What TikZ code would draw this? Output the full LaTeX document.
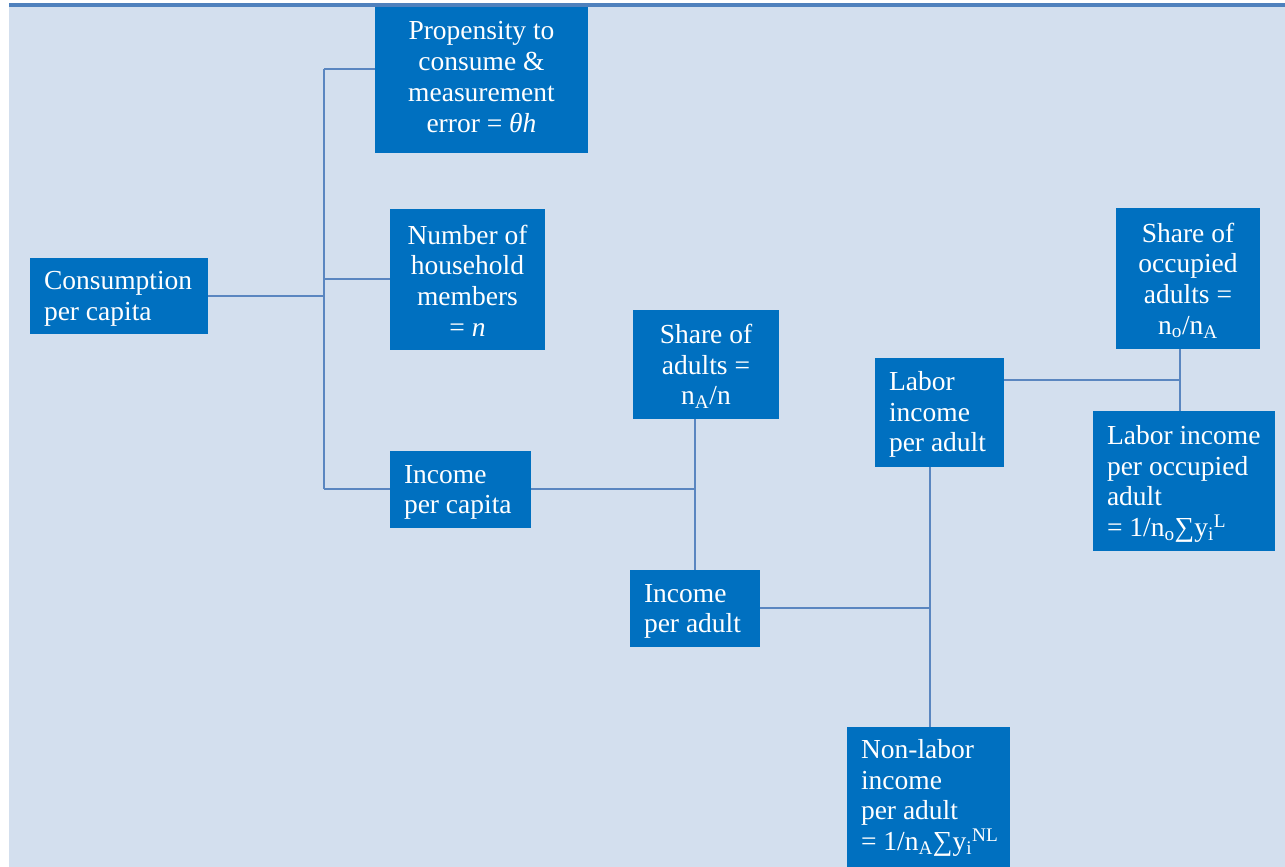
\documentclass[tikz,border=0pt]{standalone}
\usepackage{fontspec}
\setmainfont{Liberation Serif}
\definecolor{bgblue}{HTML}{D3DFEE}
\definecolor{barblue}{HTML}{4F81BD}
\definecolor{boxblue}{HTML}{0070C0}
\definecolor{lineblue}{HTML}{5A86C0}
\tikzset{
  bx/.style={fill=boxblue, draw=none, inner sep=0pt, anchor=center},
  txt/.style={text=white, inner sep=0pt, font=\fontsize{27.5}{30.7}\selectfont},
  txc/.style={txt, align=center, anchor=center},
  txl/.style={txt, align=left, anchor=west},
  conn/.style={draw=lineblue, line width=1.5pt},
}
\begin{document}
\begin{tikzpicture}[x=1pt,y=-1pt]
\useasboundingbox (0,0) rectangle (1285,867);
\fill[bgblue] (9,7) rectangle (1285,867);
\fill[barblue] (9,3.5) rectangle (1285,7.5);
% boxes
\node[bx, minimum width=213, minimum height=146] (prop) at (481.5,80) {};
\node[txc] (propT) at ([yshift=3pt]prop.center)
  {Propensity to\\consume \&\\measurement\\error = \textit{θh}};
\node[bx, minimum width=155, minimum height=141] (num) at (467.5,279.5) {};
\node[txc] (numT) at ([yshift=-1pt]num.center)
  {Number of\\household\\members\\= \textit{n}};
\node[bx, minimum width=178, minimum height=76] (cons) at (119,296) {};
\node[txl] (consT) at ([xshift=14pt,yshift=-3pt]cons.west)
  {Consumption\\per capita};
\node[bx, minimum width=141, minimum height=77] (inccap) at (460.5,489.5) {};
\node[txl] (inccapT) at ([xshift=14pt,yshift=-3pt]inccap.west)
  {Income\\per capita};
\node[bx, minimum width=146, minimum height=109] (sharea) at (706,364.5) {};
\node[txc] (shareaT) at ([yshift=-2pt]sharea.center)
  {Share of\\adults =\\n\textsubscript{A}/n};
\node[bx, minimum width=130, minimum height=77] (incad) at (695,608.5) {};
\node[txl] (incadT) at ([xshift=14pt,yshift=-3pt]incad.west)
  {Income\\per adult};
\node[bx, minimum width=129, minimum height=109] (labor) at (939.5,412.5) {};
\node[txl] (laborT) at ([xshift=14pt,yshift=-2pt]labor.west)
  {Labor\\income\\per adult};
\node[bx, minimum width=144, minimum height=141] (shareo) at (1188,278.5) {};
\node[txc] (shareoT) at ([yshift=-2pt]shareo.center)
  {Share of\\occupied\\adults =\\n\textsubscript{o}/n\textsubscript{A}};
\node[bx, minimum width=182, minimum height=140] (laborocc) at (1184,481) {};
\node[txl] (laboroccT) at ([xshift=14pt,yshift=-3pt]laborocc.west)
  {Labor income\\per occupied\\adult\\= 1/n\textsubscript{o}∑y\textsubscript{i}\textsuperscript{L}};
\node[bx, minimum width=163, minimum height=140] (nonlab) at (928.5,797) {};
\node[txl] (nonlabT) at ([xshift=14pt,yshift=-1pt]nonlab.west)
  {Non-labor\\income\\per adult\\= 1/n\textsubscript{A}∑y\textsubscript{i}\textsuperscript{NL}};
% junctions
\coordinate (j1) at (324,296);
\coordinate (j1t) at (324,69);
\coordinate (j1m) at (324,279);
\coordinate (j1b) at (324,489);
\coordinate (j2) at (695,489);
\coordinate (j3) at (930,608);
\coordinate (j4) at (1180,380);
% connectors
\draw[conn] (cons.east) -- (j1);
\draw[conn] (j1t) -- (j1b);
\draw[conn] (j1t) -- (j1t -| prop.west);
\draw[conn] (j1m) -- (j1m -| num.west);
\draw[conn] (j1b) -- (j1b -| inccap.west);
\draw[conn] (inccap.east |- j2) -- (j2);
\draw[conn] (j2 |- sharea.south) -- (j2 |- incad.north);
\draw[conn] (incad.east |- j3) -- (j3);
\draw[conn] (j3 |- labor.south) -- (j3 |- nonlab.north);
\draw[conn] (labor.east |- j4) -- (j4);
\draw[conn] (j4 |- shareo.south) -- (j4 |- laborocc.north);
\end{tikzpicture}
\end{document}
